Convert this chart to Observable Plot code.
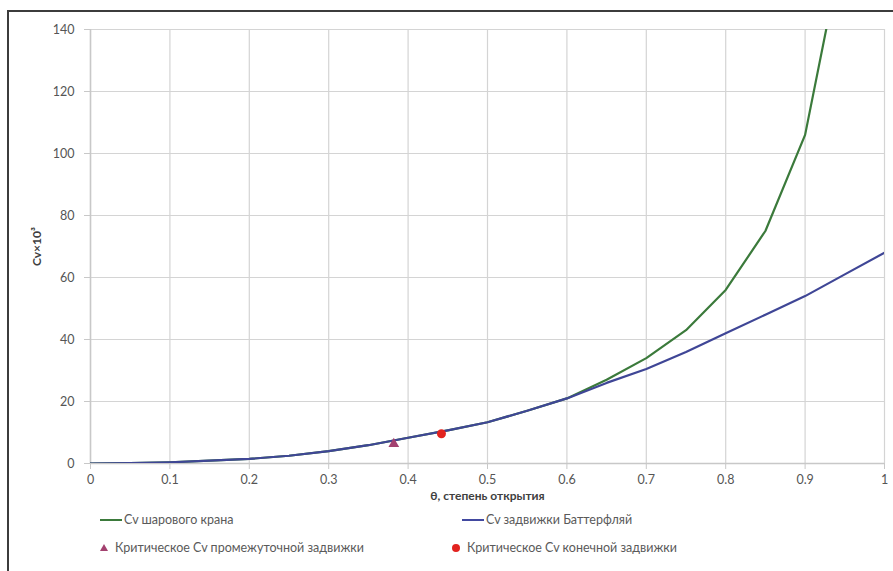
<!DOCTYPE html>
<html>
<head>
<meta charset="utf-8">
<script src="https://cdn.jsdelivr.net/npm/d3@7"></script>
<script src="https://cdn.jsdelivr.net/npm/@observablehq/plot@0.6"></script>
<style>
  html, body { margin: 0; padding: 0; background: #fff; }
  body { width: 893px; height: 571px; position: relative; overflow: hidden; font-family: Lato, "Open Sans", sans-serif; }
  #frame { position: absolute; left: 7px; top: 10px; width: 900px; height: 600px; border-left: 2px solid #3c3c3c; border-top: 2px solid #3c3c3c; pointer-events: none; }
  #chart { position: absolute; left: 0; top: 0; }
  .leg { position: absolute; font-size: 12.5px; color: #5a5a5a; white-space: nowrap; line-height: 14px; }
  .sw { display: inline-block; width: 22px; height: 2px; vertical-align: middle; margin-right: 2px; position: relative; top: -1px; }
  .tri { display: inline-block; width: 0; height: 0; border-left: 4px solid transparent; border-right: 4px solid transparent; border-bottom: 7px solid #a3416f; margin-right: 7px; vertical-align: middle; position: relative; top: -1px; }
  .dotm { display: inline-block; width: 8px; height: 8px; border-radius: 50%; background: #e2231f; margin-right: 7px; vertical-align: middle; position: relative; top: -1px; }
</style>
</head>
<body>
<div id="chart"></div>
<div id="frame"></div>
<div class="leg" style="left:100px; top:513px;"><span class="sw" style="background:#3b7a3b"></span>Cv шарового крана</div>
<div class="leg" style="left:462px; top:513px;"><span class="sw" style="background:#4249a0"></span>Cv задвижки Баттерфляй</div>
<div class="leg" style="left:100px; top:541px;"><span class="tri"></span>Критическое Cv промежуточной задвижки</div>
<div class="leg" style="left:452px; top:541px;"><span class="dotm"></span>Критическое Cv конечной задвижки</div>
<script>
// Degree of opening
const theta = [0, 0.05, 0.1, 0.15, 0.2, 0.25, 0.3, 0.35, 0.4, 0.45, 0.5, 0.55, 0.6, 0.65, 0.7, 0.75, 0.8, 0.85, 0.9, 0.95, 1];
// Cv of ball valve (x10^3)
const cvBall = [0, 0.1, 0.4, 0.9, 1.5, 2.5, 4, 5.9, 8.3, 10.7, 13.3, 17, 21, 27, 34, 43, 56, 75, 106, 170, null];
// Cv of butterfly valve (x10^3)
const cvButterfly = [0, 0.1, 0.4, 0.9, 1.5, 2.5, 4, 5.9, 8.3, 10.7, 13.3, 17, 21, 26, 30.5, 36, 42, 48, 54, 61, 68];
// Critical points
const critIntermediate = [{x: 0.382, y: 6.3}];
const critFinal = [{x: 0.442, y: 9.6}];
const xTicks = [0, 0.1, 0.2, 0.3, 0.4, 0.5, 0.6, 0.7, 0.8, 0.9, 1];
const yTicks = [0, 20, 40, 60, 80, 100, 120, 140];

const ball = theta.map((t, i) => ({x: t, y: cvBall[i]})).filter(d => d.y != null);
const butterfly = theta.map((t, i) => ({x: t, y: cvButterfly[i]}));

const plot = Plot.plot({
  width: 893,
  height: 505,
  marginLeft: 90,
  marginRight: 9,
  marginTop: 29,
  marginBottom: 42,
  style: {fontFamily: "Lato, 'Open Sans', sans-serif", fontSize: "12.5px", color: "#555", background: "transparent"},
  x: {domain: [0, 1]},
  y: {domain: [0, 140]},
  marks: [
    Plot.gridX(xTicks, {stroke: "#d4d4d4", strokeOpacity: 1, strokeWidth: 1.2}),
    Plot.gridY(yTicks, {stroke: "#d4d4d4", strokeOpacity: 1, strokeWidth: 1.2}),
    Plot.ruleY([0], {stroke: "#c8c8c8", strokeWidth: 1.5}),
    Plot.ruleX([0], {stroke: "#c8c8c8", strokeWidth: 1.5}),
    Plot.axisX(xTicks, {tickSize: 6, tickPadding: 6, stroke: "#c8c8c8", fill: "#555", fontSize: 12.5,
      tickFormat: d => String(d), label: "θ, степень открытия", labelAnchor: "center", labelArrow: "none", labelOffset: 36}),
    Plot.axisY(yTicks, {tickSize: 6, tickPadding: 10, stroke: "#c8c8c8", fill: "#555", fontSize: 12.5,
      label: "Cv×10³", labelAnchor: "center", labelArrow: "none", labelOffset: 58}),
    Plot.line(ball, {x: "x", y: "y", stroke: "#3b7a3b", strokeWidth: 2.2, curve: "linear", clip: true}),
    Plot.line(butterfly, {x: "x", y: "y", stroke: "#3f4696", strokeWidth: 2.2, curve: "linear", clip: true}),
    Plot.dot(critIntermediate, {x: "x", y: "y", symbol: "triangle", r: 4, fill: "#a3416f", stroke: "none"}),
    Plot.dot(critFinal, {x: "x", y: "y", symbol: "circle", r: 4.5, fill: "#e2231f", stroke: "none"})
  ]
});
document.getElementById("chart").appendChild(plot);
d3.select(plot).selectAll("[aria-label='x-axis label'] text, [aria-label='y-axis label'] text")
  .attr("font-weight", "bold").attr("fill", "#404040").style("font-size", "12px");
</script>
</body>
</html>
